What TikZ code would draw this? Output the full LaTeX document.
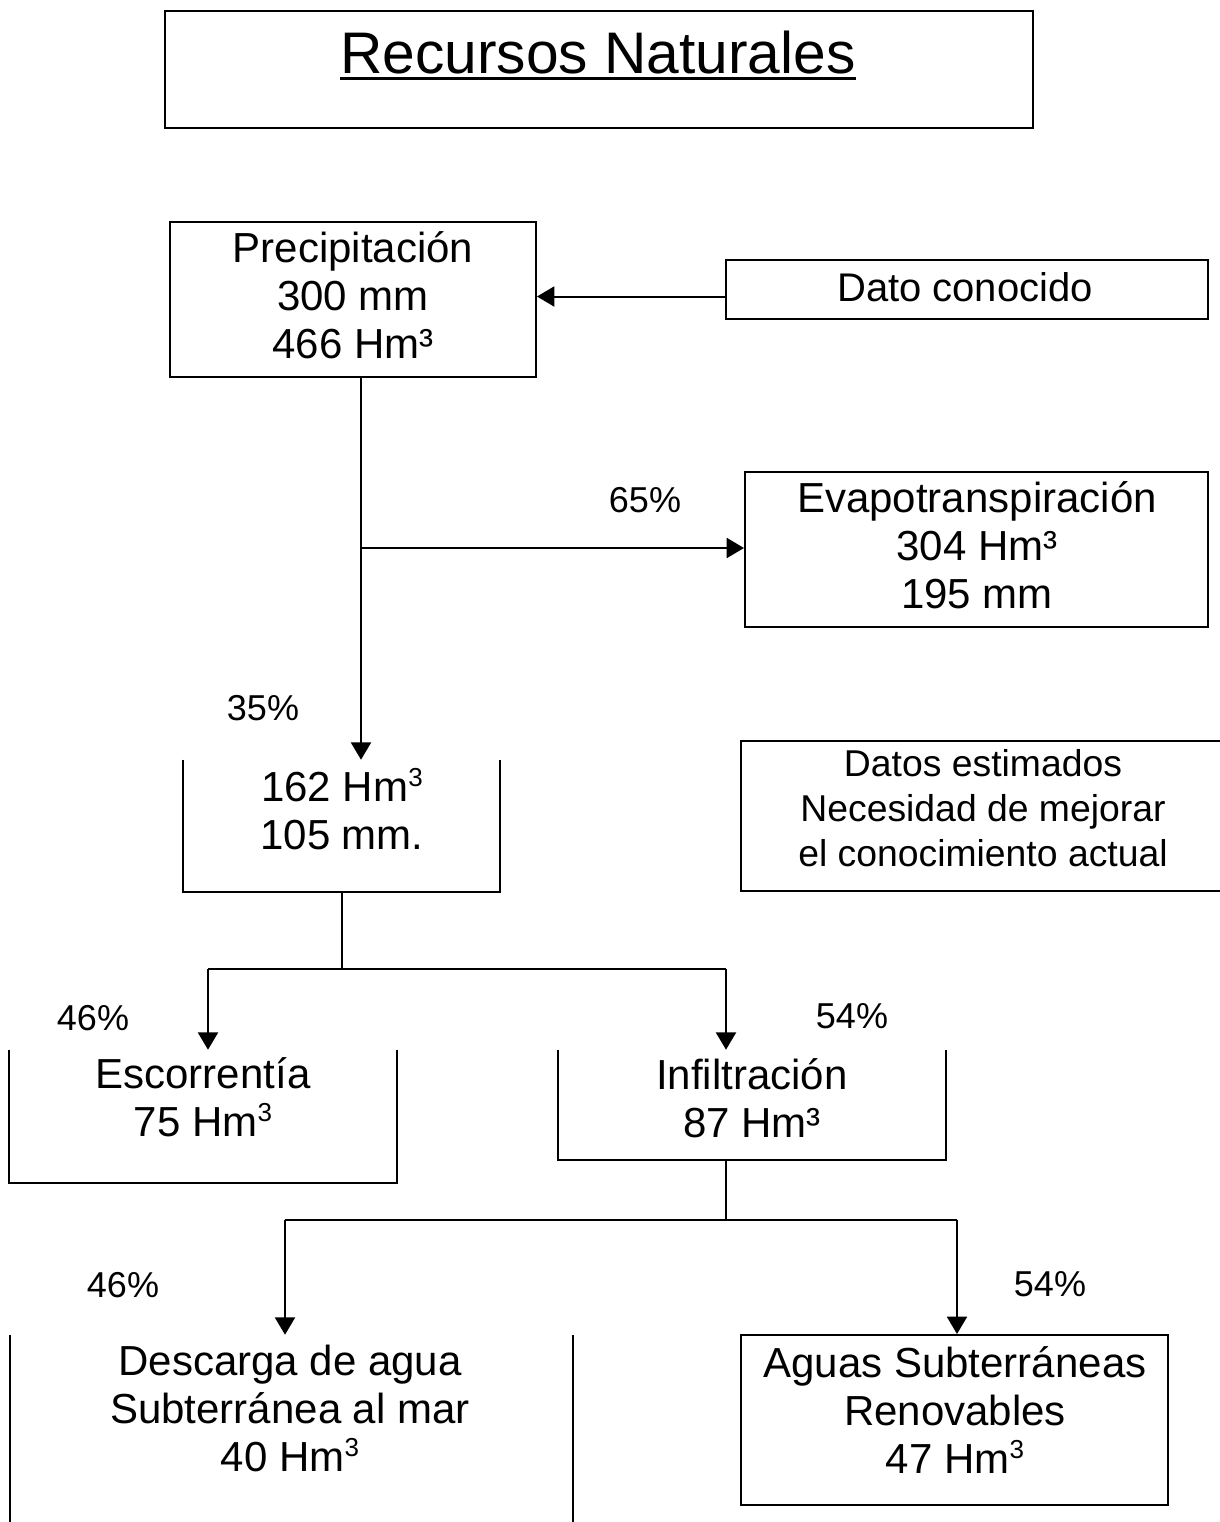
\documentclass[tikz,border=0pt]{standalone}
\usepackage{fontspec}
\setmainfont{Liberation Sans}
\usetikzlibrary{arrows.meta}
\newcommand{\supthreeup}{\raisebox{11pt}{\fontsize{19.5}{19.5}\selectfont 3}}
\tikzset{
  box/.style={draw, line width=1.5pt, inner sep=0pt},
  ghost/.style={draw=none, inner sep=0pt},
  txt/.style={inner sep=0pt, align=center, font=\fontsize{31.5}{36}\selectfont},
  pct/.style={inner sep=0pt, font=\fontsize{27}{32}\selectfont},
  conn/.style={line width=1.5pt},
  arr/.style={line width=1.5pt, -{Triangle[length=13pt,width=15pt]}},
  side/.style={line width=1.5pt}
}
\begin{document}
\begin{tikzpicture}[x=0.75pt,y=-0.75pt]
\useasboundingbox (0,0) rectangle (1220,1522);
% title
\node[box, minimum width=651pt, minimum height=87.75pt] (title) at (599,69.5) {};
\node[inner sep=0pt, font=\fontsize{44}{50}\selectfont] (titlet) at (598,53) {Recursos Naturales};
\draw[line width=2.4pt] ([yshift=-3.6pt]titlet.base west) -- ([yshift=-3.6pt]titlet.base east);
% precipitacion
\node[box, minimum width=274.5pt, minimum height=116.25pt] (prec) at (353,299.5) {};
\node[txt] (prect) at (353,295) {Precipitación\\300 mm\\466 Hm³};
% dato conocido
\node[box, minimum width=361.5pt, minimum height=44.25pt] (dato) at (967,289.5) {};
\node[inner sep=0pt, font=\fontsize{30}{34}\selectfont] (datot) at (965,287) {Dato conocido};
% evapotranspiracion
\node[box, minimum width=347.25pt, minimum height=116.25pt] (evap) at (976.5,549.5) {};
\node[txt] (evapt) at (977,545) {Evapotranspiración\\304 Hm³\\195 mm};
% 162 box (open top)
\node[ghost, minimum width=237.75pt, minimum height=99pt] (b162) at (341.5,826) {};
\draw[side] (b162.north west) -- (b162.south west) -- (b162.south east) -- (b162.north east);
\node[txt] (b162t) at (342,809) {162 Hm\supthreeup\\105 mm.};
% datos estimados (right side off page)
\coordinate (estTL) at (741,741);
\coordinate (estBL) at (741,891);
\draw[side] (1222,741) -- (estTL) -- (estBL) -- (1222,891);
\node[inner sep=0pt, align=center, font=\fontsize{28}{33.75}\selectfont] (estt) at (983,808) {Datos estimados\\Necesidad de mejorar\\el conocimiento actual};
% escorrentia (open top)
\node[ghost, minimum width=291pt, minimum height=99.75pt] (esc) at (203,1116.5) {};
\draw[side] (esc.north west) -- (esc.south west) -- (esc.south east) -- (esc.north east);
\node[txt] (esct) at (203,1097) {Escorrentía\\75 Hm\supthreeup};
% infiltracion (open top)
\node[ghost, minimum width=291pt, minimum height=82.5pt] (inf) at (752,1105) {};
\draw[side] (inf.north west) -- (inf.south west) -- (inf.south east) -- (inf.north east);
\node[txt] (inft) at (752,1098) {Infiltración\\87 Hm³};
% descarga (sides only)
\node[ghost, minimum width=422.25pt, minimum height=140.25pt] (desc) at (291.5,1428.5) {};
\draw[side] (desc.north west) -- (desc.south west);
\draw[side] (desc.north east) -- (desc.south east);
\node[txt] (desct) at (290,1408) {Descarga de agua\\Subterránea al mar\\40 Hm\supthreeup};
% aguas subterraneas
\node[box, minimum width=320.25pt, minimum height=127.5pt] (aguas) at (954.5,1420) {};
\node[txt] (aguast) at (955,1410) {Aguas Subterráneas\\Renovables\\47 Hm\supthreeup};
% percentages
\node[pct] (p65) at (645,500) {65\%};
\node[pct] (p35) at (263,708) {35\%};
\node[pct] (p46a) at (93,1018) {46\%};
\node[pct] (p54a) at (852,1016) {54\%};
\node[pct] (p46b) at (123,1285) {46\%};
\node[pct] (p54b) at (1050,1284) {54\%};
% connectors
\draw[arr] ([yshift=-5.25pt]dato.west) -- ([yshift=-5.25pt]dato.west -| prec.east);
\coordinate (sp) at (361,548);
\draw[conn] (prec.south -| sp) -- (sp);
\draw[arr] (sp) -- (sp |- b162.north);
\draw[arr] (sp) -- (sp -| evap.west);
\coordinate (j1) at (342,969);
\coordinate (ea) at (208,969);
\coordinate (ia) at (726,969);
\draw[conn] (b162.south -| j1) -- (j1);
\draw[conn] (ea) -- (ia);
\draw[arr] (ea) -- (ea |- esc.north);
\draw[arr] (ia) -- (ia |- inf.north);
\coordinate (j2) at (726,1220);
\coordinate (da) at (285,1220);
\coordinate (aa) at (957,1220);
\draw[conn] (inf.south -| j2) -- (j2);
\draw[conn] (da) -- (aa);
\draw[arr] (da) -- (da |- desc.north);
\draw[arr] (aa) -- (aa |- aguas.north);
\end{tikzpicture}
\end{document}
